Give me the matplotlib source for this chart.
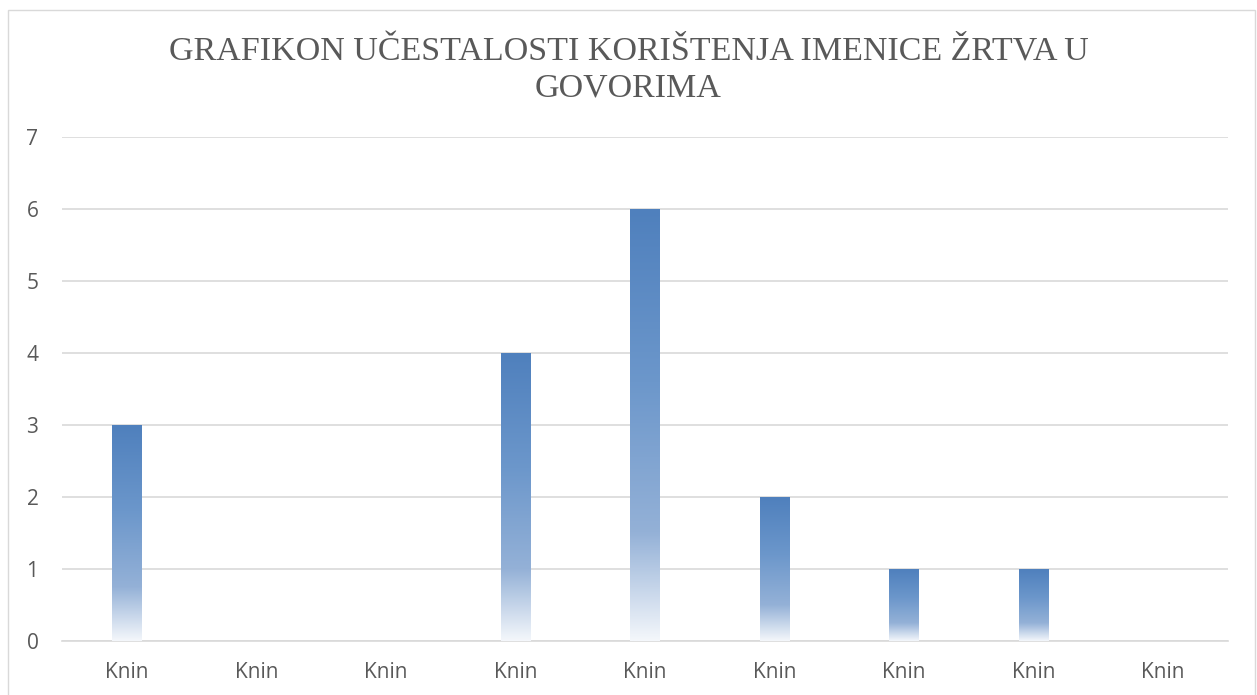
import numpy as np
import matplotlib
matplotlib.use("Agg")
import matplotlib.pyplot as plt
from matplotlib.colors import LinearSegmentedColormap
from matplotlib.patches import Rectangle

categories = ["Knin"] * 9
values = [3, 0, 0, 4, 6, 2, 1, 1, 0]
title = "GRAFIKON UČESTALOSTI KORIŠTENJA IMENICE ŽRTVA U\nGOVORIMA"

# gradient od dna (svijetlo) prema vrhu (tamno)
grad = LinearSegmentedColormap.from_list(
    "excel_grad",
    [(0.0, "#f4f7fb"), (0.25, "#94b1d7"), (0.6, "#6c97cb"), (1.0, "#4f80bd")])

fig = plt.figure(figsize=(12.57, 6.95), dpi=100)
fig.patches.append(Rectangle((8 / 1257, -0.01), (1255 - 8) / 1257, 1 - 10 / 695 + 0.01,
                             transform=fig.transFigure, fill=False,
                             edgecolor="#d9d9d9", linewidth=1))
ax = fig.add_axes([62 / 1257, 1 - 641 / 695, (1228 - 62) / 1257, (641 - 137) / 695])

x = np.arange(len(categories))
width = 0.23
bars = ax.bar(x, values, width=width, color="none", edgecolor="none", zorder=3)
g = np.linspace(0, 1, 256).reshape(-1, 1)
for b in bars:
    h = b.get_height()
    if h <= 0:
        continue
    x0 = b.get_x()
    im = ax.imshow(g, cmap=grad, origin="lower", aspect="auto",
                   extent=[x0, x0 + b.get_width(), 0, h], zorder=3)
    im.set_clip_path(b)

ax.set_xlim(-0.5, len(categories) - 0.5)
ax.set_ylim(0, 7)
ax.set_yticks(range(8))
ax.set_xticks(x)
ax.set_xticklabels(categories)
ax.grid(axis="y", color="#d9d9d9", linewidth=1.2, zorder=0)
for s in ["top", "right", "left"]:
    ax.spines[s].set_visible(False)
ax.spines["bottom"].set_color("#d9d9d9")
ax.spines["bottom"].set_linewidth(1.2)
ax.tick_params(length=0, labelsize=15, labelcolor="#595959")
ax.tick_params(axis="x", pad=15)
ax.tick_params(axis="y", pad=17)
for lab in ax.get_xticklabels() + ax.get_yticklabels():
    lab.set_fontfamily("Open Sans")

fig.text(0.5, 1 - 70 / 695, title, ha="center", va="center", fontsize=24.5,
         family="Liberation Serif", color="#595959", linespacing=1.22)

fig.savefig("out.png", dpi=100, facecolor="white")
